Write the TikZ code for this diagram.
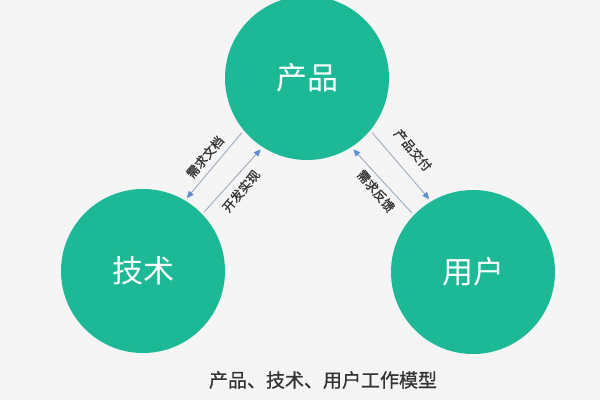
\documentclass[tikz,border=0pt]{standalone}
\usepackage{fontspec}
\newfontfamily\cjk{Noto Sans CJK SC}
\newfontfamily\cjkb[FakeBold=0.8]{Noto Sans CJK SC}
\usetikzlibrary{arrows.meta}
\definecolor{bg}{HTML}{F5F5F5}
\definecolor{teal}{HTML}{1DB996}
\definecolor{linec}{HTML}{9EACBE}
\definecolor{tipc}{HTML}{5A8FD6}
\definecolor{txt}{HTML}{333333}
\tikzset{
  bigc/.style={circle, fill=teal, draw=none, minimum size=164bp, inner sep=0pt, outer sep=3bp,
    text=white, font=\cjk\fontsize{31bp}{31bp}\selectfont},
  flow/.style={draw=linec, line width=0.9bp, -{Triangle[length=7bp,width=6bp,color=tipc,fill=tipc]}},
  lbl/.style={text=txt, inner sep=0pt, font=\cjkb\fontsize{12.5bp}{12.5bp}\selectfont},
  captext/.style={text=txt, inner sep=0pt, font=\cjkb\fontsize{19bp}{19bp}\selectfont}
}
\begin{document}
\begin{tikzpicture}[x=1bp,y=-1bp]
\fill[bg] (0,0) rectangle (600,400);
\useasboundingbox (0,0) rectangle (600,400);
\node[bigc] (prod) at (307,78) {产品};
\node[bigc] (tech) at (143,271) {技术};
\node[bigc] (user) at (473,272) {用户};
\draw[flow] (prod.220) -- (tech.59);
\draw[flow] (tech.44) -- (prod.237);
\draw[flow] (prod.320) -- (user.121);
\draw[flow] (user.136) -- (prod.303);
\node[lbl, rotate=50] (l1) at (205,157) {需求文档};
\node[lbl, rotate=50] (l2) at (241,191) {开发实现};
\node[lbl, rotate=-50] (l3) at (413,150) {产品交付};
\node[lbl, rotate=-50] (l4) at (376,191) {需求反馈};
\node[captext] (caption) at (323,380) {产品、技术、用户工作模型};
\end{tikzpicture}
\end{document}
